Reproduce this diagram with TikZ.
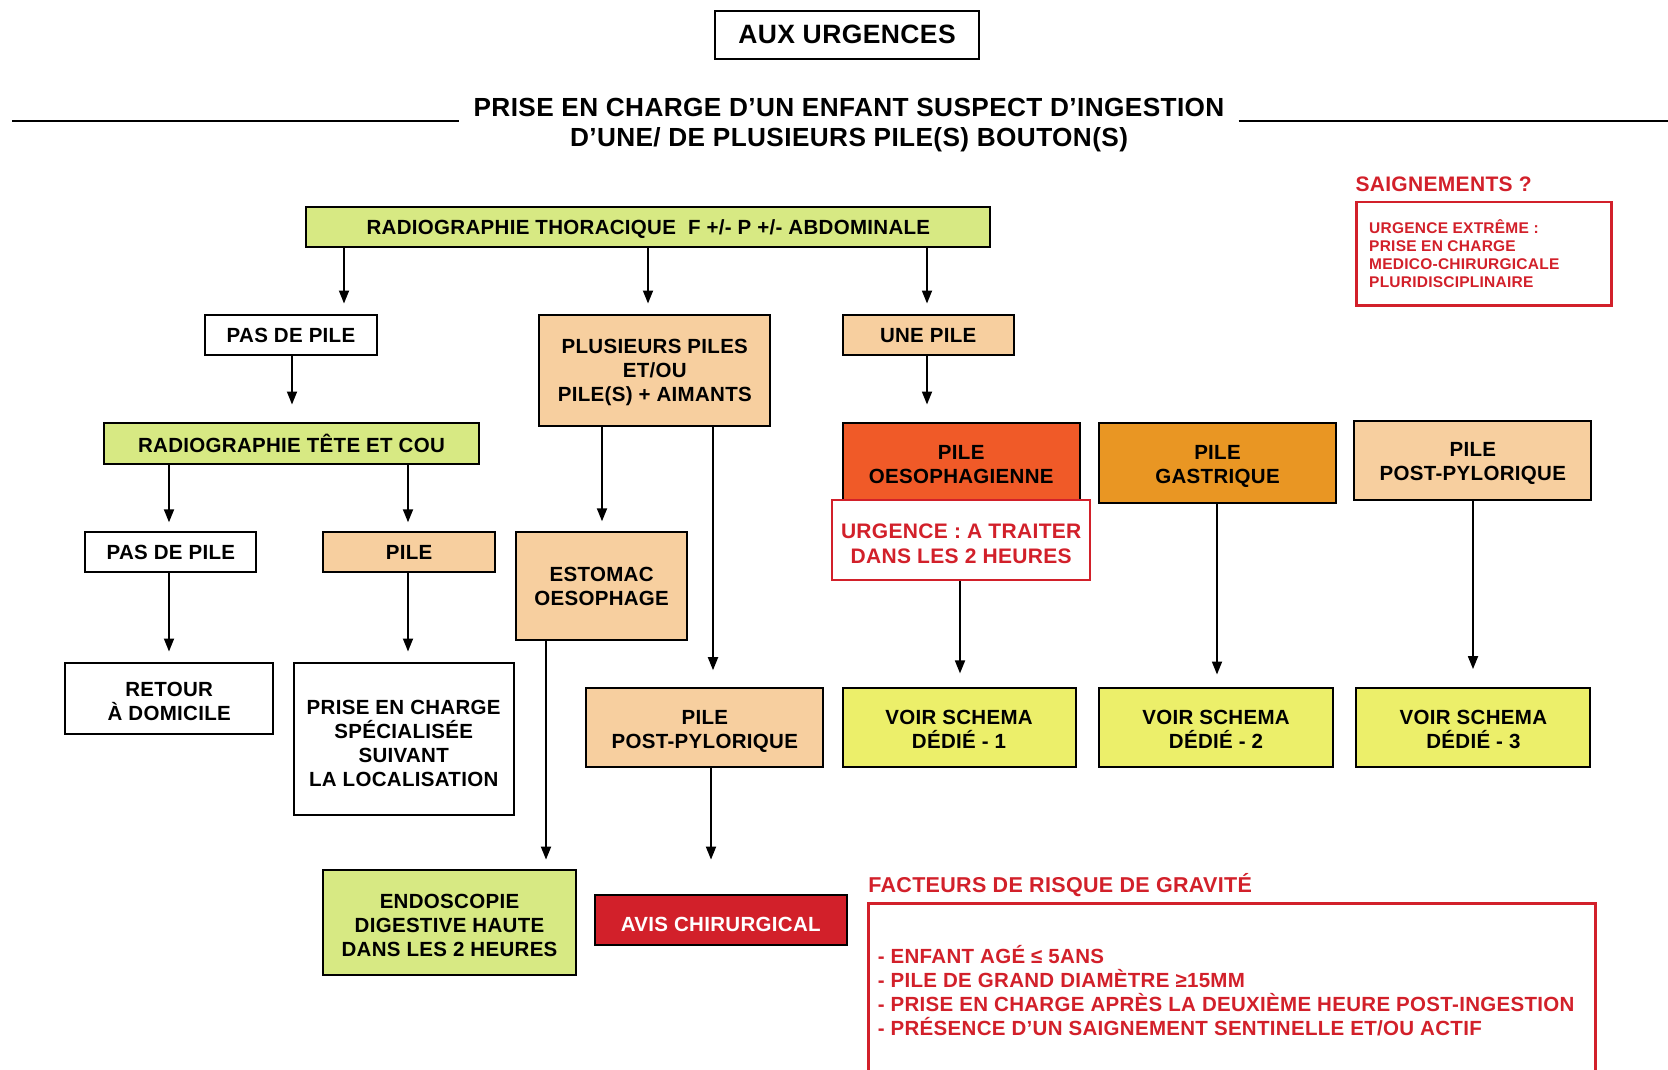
\documentclass[tikz,border=0pt]{standalone}
\usepackage{fontspec}
\setmainfont{Liberation Sans}
\newfontfamily\hf{Liberation Sans}[LetterSpace=1.5]
\usetikzlibrary{arrows.meta}
\definecolor{cgreen}{RGB}{215,233,131}
\definecolor{cpeach}{RGB}{247,207,159}
\definecolor{coeso}{RGB}{240,90,40}
\definecolor{cgast}{RGB}{233,150,35}
\definecolor{cvoir}{RGB}{236,239,106}
\definecolor{cred}{RGB}{210,32,42}
\newcommand{\lft}[1]{\rule{0pt}{#1}}
\begin{document}
\begin{tikzpicture}[x=1pt,y=-1pt,
 box/.style={draw=black, line width=2pt, align=center, inner sep=0pt, font=\hf\bfseries\fontsize{20.5}{24}\selectfont},
 redbox/.style={draw=cred, line width=2pt, fill=white, align=center, inner sep=0pt, text=cred, font=\hf\bfseries\fontsize{21}{24.5}\selectfont},
 arr/.style={line width=1.8pt, -{Triangle[length=13pt,width=10pt]}},
 rule/.style={line width=2pt},
 redtext/.style={text=cred, inner sep=0pt, align=left, anchor=west},
]
\useasboundingbox (0,0) rectangle (1668,1070);

% header
\node[box, minimum width=264pt, minimum height=48pt, font=\hf\bfseries\fontsize{26.5}{30}\selectfont] (aux) at (847,34.6) {AUX URGENCES};
\node[align=center, inner xsep=14pt, inner ysep=0pt, font=\hf\bfseries\fontsize{26.2}{29.8}\selectfont] (title) at (849,121.3) {\lft{25.2pt}PRISE EN CHARGE D’UN ENFANT SUSPECT D’INGESTION\\D’UNE/ DE PLUSIEURS PILE(S) BOUTON(S)};
\coordinate (hl) at (12,121.3);
\coordinate (hr) at (1668,121.3);
\draw[rule] (hl) -- (hl -| title.west);
\draw[rule] (hr -| title.east) -- (hr);

% saignements
\node[redtext, font=\hf\bfseries\fontsize{21}{24}\selectfont] (saig) at (1355.3,184.5) {SAIGNEMENTS ?};
\node[draw=cred, line width=2.5pt, minimum width=255.4pt, minimum height=103.2pt, inner sep=0pt] (sbox) at (1484,253.7) {};
\node[redtext, font=\hf\bfseries\fontsize{15.5}{18.1}\selectfont] (stext) at (1369,253.7) {URGENCE EXTRÊME :\\PRISE EN CHARGE\\MEDICO-CHIRURGICALE\\PLURIDISCIPLINAIRE};

% main flow
\node[box, fill=cgreen, minimum width=684pt, minimum height=39.4pt] (thor) at (648.4,227.1) {\lft{18.9pt}RADIOGRAPHIE THORACIQUE\ \ F +/- P +/- ABDOMINALE};
\node[box, fill=white, minimum width=171.3pt, minimum height=40.4pt] (pas1) at (291,335.1) {PAS DE PILE};
\node[box, fill=cpeach, minimum width=230.8pt, minimum height=110.6pt] (plus) at (654.8,370.2) {\lft{17.9pt}PLUSIEURS PILES\\ET/OU\\PILE(S) + AIMANTS};
\node[box, fill=cpeach, minimum width=171.3pt, minimum height=40.4pt] (une) at (928.2,335.1) {UNE PILE};

\node[box, fill=cgreen, minimum width=374.4pt, minimum height=40.4pt] (tete) at (291.5,443.6) {RADIOGRAPHIE TÊTE ET COU};
\node[box, fill=white, minimum width=171.3pt, minimum height=40.4pt] (pas2) at (170.8,552.1) {PAS DE PILE};
\node[box, fill=cpeach, minimum width=171.3pt, minimum height=40.4pt] (pile) at (409.1,552.1) {PILE};
\node[box, fill=white, minimum width=208.5pt, minimum height=71.3pt] (retour) at (169.2,698.4) {\lft{21.1pt}RETOUR\\À DOMICILE};
\node[box, fill=white, minimum width=220.2pt, minimum height=152.2pt] (prise) at (403.7,738.8) {\lft{23.3pt}PRISE EN CHARGE\\SPÉCIALISÉE\\SUIVANT\\LA LOCALISATION};

\node[box, fill=cpeach, minimum width=171.3pt, minimum height=108.5pt] (esto) at (601.6,586.2) {ESTOMAC\\OESOPHAGE};
\node[box, fill=cgreen, minimum width=252.1pt, minimum height=104.3pt] (endo) at (449.5,922.4) {\lft{20.1pt}ENDOSCOPIE\\DIGESTIVE HAUTE\\DANS LES 2 HEURES};
\node[box, fill=cpeach, minimum width=237.3pt, minimum height=78.7pt] (ppm) at (704.8,727.7) {\lft{22.3pt}PILE\\POST-PYLORIQUE};
\node[box, fill=cred, text=white, minimum width=252.1pt, minimum height=50pt] (avis) at (720.8,919.7) {\lft{23.3pt}AVIS CHIRURGICAL};

\node[box, fill=coeso, minimum width=237.3pt, minimum height=76.6pt] (oeso) at (961.2,461.7) {\lft{20.1pt}PILE\\OESOPHAGIENNE};
\node[redbox, minimum width=258.5pt, minimum height=79.8pt] (urg) at (961.2,539.9) {\lft{22.6pt}URGENCE : A TRAITER\\DANS LES 2 HEURES};
\node[box, fill=cvoir, minimum width=233pt, minimum height=78.7pt] (v1) at (959,727.7) {\lft{17.9pt}VOIR SCHEMA\\DÉDIÉ - 1};

\node[box, fill=cgast, minimum width=237.2pt, minimum height=79.8pt] (gast) at (1217.5,463.3) {\lft{20.1pt}PILE\\GASTRIQUE};
\node[box, fill=cvoir, minimum width=234.1pt, minimum height=78.7pt] (v2) at (1216,727.7) {\lft{17.9pt}VOIR SCHEMA\\DÉDIÉ - 2};

\node[box, fill=cpeach, minimum width=237.2pt, minimum height=78.7pt] (ppr) at (1472.8,460.7) {\lft{20.1pt}PILE\\POST-PYLORIQUE};
\node[box, fill=cvoir, minimum width=234.1pt, minimum height=78.7pt] (v3) at (1473.4,727.7) {\lft{17.9pt}VOIR SCHEMA\\DÉDIÉ - 3};

% arrow tips
\coordinate (t1) at (344,303.5);
\coordinate (t2) at (648,303.5);
\coordinate (t3) at (927,303.5);
\coordinate (t4) at (292,404.5);
\coordinate (t5) at (927,404.5);
\coordinate (t6) at (169,522.3);
\coordinate (t7) at (408,522.3);
\coordinate (t8) at (169,651.5);
\coordinate (t9) at (408,651.5);
\coordinate (t10) at (602,521.3);
\coordinate (t11) at (713,670.2);
\coordinate (t12) at (546,859.6);
\coordinate (t13) at (711,859.6);
\coordinate (t14) at (960,673.4);
\coordinate (t15) at (1217,674.5);
\coordinate (t16) at (1473,669.1);

\draw[arr] (thor.south -| t1) -- (t1);
\draw[arr] (thor.south -| t2) -- (t2);
\draw[arr] (thor.south -| t3) -- (t3);
\draw[arr] (pas1.south -| t4) -- (t4);
\draw[arr] (une.south -| t5) -- (t5);
\draw[arr] (tete.south -| t6) -- (t6);
\draw[arr] (tete.south -| t7) -- (t7);
\draw[arr] (pas2.south -| t8) -- (t8);
\draw[arr] (pile.south -| t9) -- (t9);
\draw[arr] (plus.south -| t10) -- (t10);
\draw[arr] (plus.south -| t11) -- (t11);
\draw[arr] (esto.south -| t12) -- (t12);
\draw[arr] (ppm.south -| t13) -- (t13);
\draw[arr] (urg.south -| t14) -- (t14);
\draw[arr] (gast.south -| t15) -- (t15);
\draw[arr] (ppr.south -| t16) -- (t16);

% facteurs de risque
\node[redtext, font=\hf\bfseries\fontsize{21.5}{24}\selectfont] (fact) at (868.1,885.5) {FACTEURS DE RISQUE DE GRAVITÉ};
\coordinate (fbl) at (868.1,1075);
\coordinate (ftr) at (1595.7,903.2);
\draw[draw=cred, line width=3pt] (fbl) |- (ftr) -- (ftr |- fbl);
\node[redtext, font=\hf\bfseries\fontsize{20.5}{24.1}\selectfont] (flist) at (877.6,990.4) {- ENFANT AGÉ ≤ 5ANS\\- PILE DE GRAND DIAMÈTRE ≥15MM\\- PRISE EN CHARGE APRÈS LA DEUXIÈME HEURE POST-INGESTION\\- PRÉSENCE D’UN SAIGNEMENT SENTINELLE ET/OU ACTIF};
\end{tikzpicture}
\end{document}
